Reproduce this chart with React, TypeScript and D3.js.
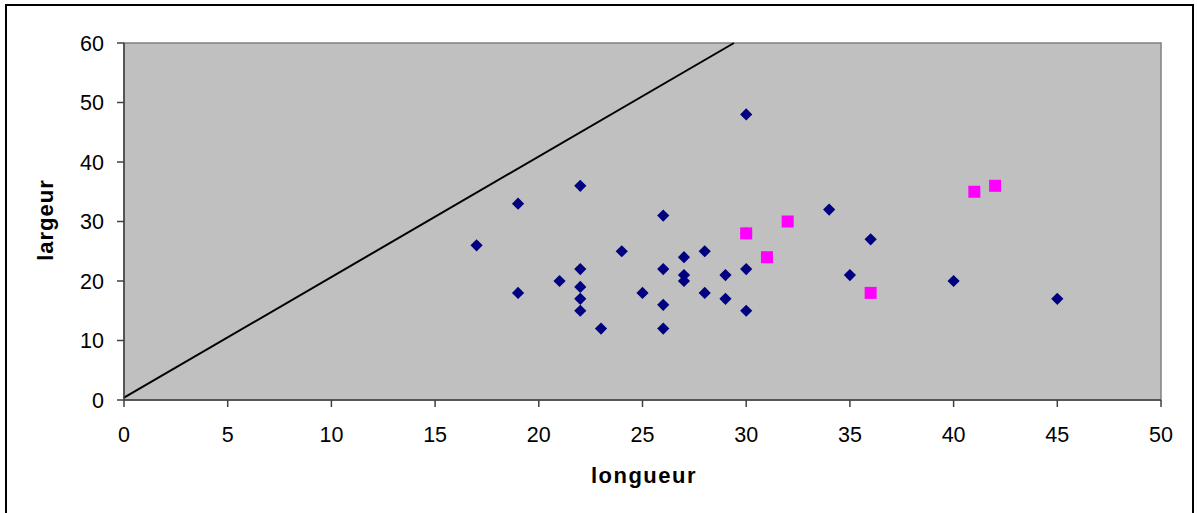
import React from "react";
import * as d3 from "d3";

const blueX = [30, 22, 19, 26, 17, 24, 28, 27, 22, 26, 30, 27, 27, 29, 21, 22, 19, 25, 28, 22, 29, 26, 22, 30, 23, 26, 30, 34, 36, 35, 40, 45];
const blueY = [48, 36, 33, 31, 26, 25, 25, 24, 22, 22, 22, 21, 20, 21, 20, 19, 18, 18, 18, 17, 17, 16, 15, 15, 12, 12, 28, 32, 27, 21, 20, 17];
const pinkX = [30, 32, 31, 41, 42, 36];
const pinkY = [28, 30, 24, 35, 36, 18];
const lineX = [0, 29.41];
const lineY = [0.4, 60];
const xTicks = [0, 5, 10, 15, 20, 25, 30, 35, 40, 45, 50];
const yTicks = [0, 10, 20, 30, 40, 50, 60];

export default function App() {
  const W = 1197, H = 513;
  const L = 124, R = 1161, T = 43, B = 400;
  const x = d3.scaleLinear().domain([0, 50]).range([L, R]);
  const y = d3.scaleLinear().domain([0, 60]).range([B, T]);
  const font = "'Liberation Sans', Arial, sans-serif";
  const diamond = d3.symbol().type(d3.symbolDiamond2).size(95)();
  const lineGen = d3.line<number>().x((_, i) => x(lineX[i])).y((_, i) => y(lineY[i]));
  return (
    <svg width={W} height={H} style={{ position: "absolute", left: 0, top: 0 }} fontFamily={font}>
      <rect x={0} y={0} width={W} height={H} fill="#fff" />
      <rect x={6} y={5} width={1187} height={520} fill="#fff" stroke="#000" strokeWidth={2} />
      <rect x={L} y={T} width={R - L} height={B - T} fill="#C0C0C0" stroke="#808080" strokeWidth={1.5} />
      <path d={lineGen([0, 1]) || ""} stroke="#000" strokeWidth={2} fill="none" />
      {blueX.map((v, i) => (
        <path key={"b" + i} d={diamond} transform={`translate(${x(v)},${y(blueY[i])})`} fill="#000080" />
      ))}
      {pinkX.map((v, i) => (
        <rect key={"p" + i} x={x(v) - 6} y={y(pinkY[i]) - 6} width={12} height={12} fill="#FF00FF" />
      ))}
      <line x1={L} y1={T} x2={L} y2={B} stroke="#404040" strokeWidth={1.5} />
      <line x1={L} y1={B} x2={R} y2={B} stroke="#404040" strokeWidth={1.5} />
      {yTicks.map((t) => (
        <g key={"y" + t}>
          <line x1={L - 7} x2={L} y1={y(t)} y2={y(t)} stroke="#404040" strokeWidth={1.5} />
          <text x={104} y={y(t)} dy="0.36em" textAnchor="end" fontSize={21.5} fill="#000">{t}</text>
        </g>
      ))}
      {xTicks.map((t) => (
        <g key={"x" + t}>
          <line x1={x(t)} x2={x(t)} y1={B} y2={B + 7} stroke="#404040" strokeWidth={1.5} />
          <text x={x(t)} y={434} dy="0.36em" textAnchor="middle" fontSize={21.5} fill="#000">{t}</text>
        </g>
      ))}
      <text x={644} y={475} dy="0.36em" textAnchor="middle" fontSize={22} fontWeight="bold" letterSpacing={1.5}>longueur</text>
      <text transform="translate(45,220) rotate(-90)" dy="0.36em" textAnchor="middle" fontSize={22} fontWeight="bold" letterSpacing={1}>largeur</text>
    </svg>
  );
}
